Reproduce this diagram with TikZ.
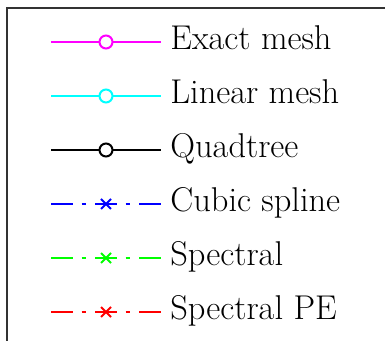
\documentclass[tikz,border=0pt]{standalone}
\usetikzlibrary{shapes.misc}
\definecolor{exactcol}{RGB}{255,0,255}
\definecolor{linearcol}{RGB}{0,255,255}
\definecolor{splinecol}{RGB}{0,0,255}
\definecolor{spectcol}{RGB}{0,255,0}
\definecolor{pecol}{RGB}{255,0,0}
\tikzset{
  mline/.style={line width=0.6pt},
  ddot/.style={mline, dash pattern=on 10.85pt off 4.5pt on 2.15pt off 4.5pt},
  omark/.style={circle, draw=#1, line width=1pt, fill=white, inner sep=0pt, minimum size=6.5pt},
  xmark/.style={cross out, draw=#1, line width=1pt, inner sep=0pt, minimum size=4pt},
  lbl/.style={anchor=base west, inner sep=0pt, font=\fontsize{17.2}{20}\selectfont}
}
\begin{document}
\begin{tikzpicture}[x=0.5pt,y=0.5pt]
\useasboundingbox (0,0) rectangle (385,-341);
\draw [black!80, line width=0.6pt] (7,-341) -- (7,-8) -- (385,-8);
% exact mesh
\coordinate (ex1) at (51,-42);
\coordinate (ex2) at (161,-42);
\draw [mline, exactcol] (ex1) -- (ex2);
\node [omark=exactcol] (exm) at (106,-42) {};
\node [lbl] (ext) at (170,-50) {Exact mesh};
% linear mesh
\coordinate (li1) at (51,-96);
\coordinate (li2) at (161,-96);
\draw [mline, linearcol] (li1) -- (li2);
\node [omark=linearcol] (lim) at (106,-96) {};
\node [lbl] (lit) at (170,-104) {Linear mesh};
% quadtree
\coordinate (qu1) at (51,-150);
\coordinate (qu2) at (161,-150);
\draw [mline, black] (qu1) -- (qu2);
\node [omark=black] (qum) at (106,-150) {};
\node [lbl] (qut) at (170,-158) {Quadtree};
% cubic spline
\coordinate (cu1) at (51,-204);
\coordinate (cu2) at (161,-204);
\draw [ddot, splinecol] (cu1) -- (cu2);
\node [xmark=splinecol] (cum) at (106,-204) {};
\node [lbl] (cut) at (170,-212) {Cubic spline};
% spectral
\coordinate (sp1) at (51,-258);
\coordinate (sp2) at (161,-258);
\draw [ddot, spectcol] (sp1) -- (sp2);
\node [xmark=spectcol] (spm) at (106,-258) {};
\node [lbl] (spt) at (170,-266) {Spectral};
% spectral PE
\coordinate (pe1) at (51,-312);
\coordinate (pe2) at (161,-312);
\draw [ddot, pecol] (pe1) -- (pe2);
\node [xmark=pecol] (pem) at (106,-312) {};
\node [lbl] (pet) at (170,-320) {Spectral PE};
\end{tikzpicture}
\end{document}
